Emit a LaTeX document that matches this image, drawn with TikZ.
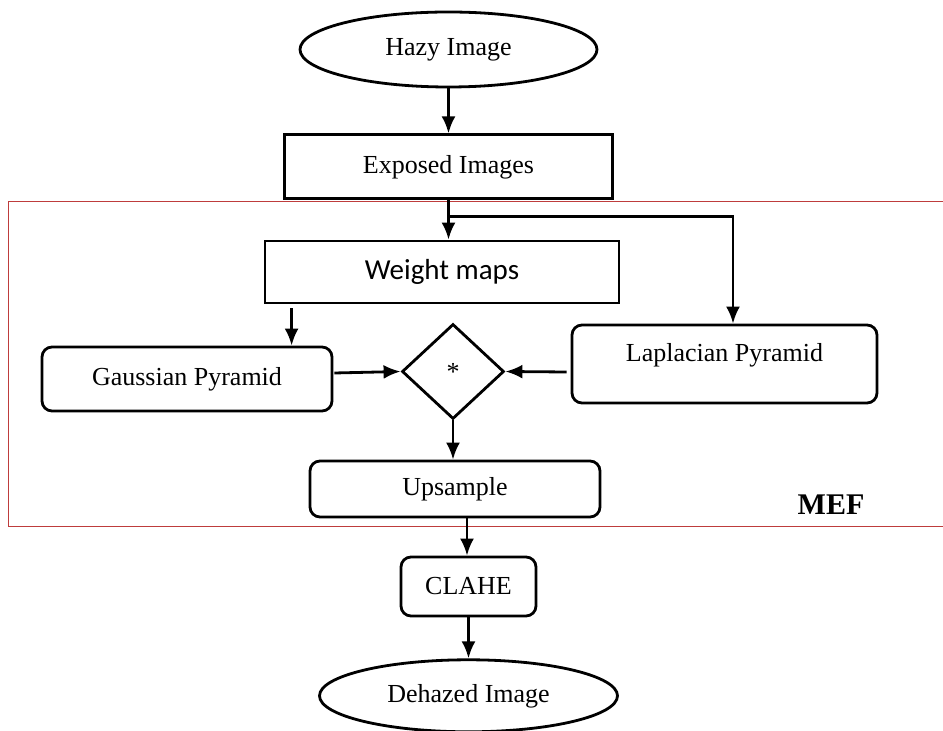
\documentclass[tikz,border=0pt]{standalone}
\usepackage{fontspec}
\setmainfont{Liberation Serif}
\newfontfamily\calibrif{Carlito}
\usepackage{tikz}
\usetikzlibrary{positioning}
\usetikzlibrary{calc}
\usetikzlibrary{shapes.geometric, arrows.meta}
\usepackage{xcolor}
\definecolor{mefred}{RGB}{190,60,60}
\tikzset{
	-{Latex[length=8.5pt,width=7pt]},
	every node/.style={align=center,font=\fontsize{13}{15}\selectfont},
	terminal/.style ={ellipse, draw, minimum width=148.5pt, minimum height=37.5pt},
	process/.style = {rectangle, draw, minimum height=32pt},
	stage/.style = {rectangle, draw, rounded corners=5pt},
	decision/.style = {diamond, draw, inner sep=0pt, minimum width=51pt, minimum height=47.5pt},
	mefframe/.style = {-, draw=mefred, line width=0.5pt}
}

\begin{document}
\begin{tikzpicture}[x=0.5pt, y=-0.5pt, line width=1.4pt]
	\useasboundingbox (0,0) rectangle (943,731);
	% MEF frame
	\draw[mefframe] (943,202) -- (8,202) -- (8,527) -- (943,527);
	\node (mef) at (831,505) {\fontsize{15}{17}\selectfont\bfseries MEF};
	
	\node (hazy) [terminal] at (448.5,49.5) {Hazy Image};
	\node (exposed) [process, minimum width=164pt, below = 22.5pt of hazy] {Exposed Images};
	\node (weight) [process, minimum width=177pt, minimum height=31pt] at (442,272) {\calibrif\fontsize{14.5}{17}\selectfont Weight maps};
	\node (gauss) [stage, minimum width=145pt, minimum height=32pt] at (187,379) {Gaussian Pyramid};
	\node (dia) [decision] at (453,371.5) {*};
	\node (lap) [stage, minimum width=152.5pt, minimum height=39pt, text height=9pt, text depth=11pt] at (724.5,364) {Laplacian Pyramid};
	\node (up) [stage, minimum width=145pt, minimum height=28pt] at (455,489) {Upsample};
	\node (clahe) [stage, minimum width=67.5pt, minimum height=29.5pt] at (468.5,586.5) {CLAHE};
	\node (dehazed) [terminal, minimum width=149pt, minimum height=36pt, below = 20.5pt of clahe] {Dehazed Image};
	
	\path (exposed.south) ++(0,16) coordinate (split);
	\path ([xshift=14pt,yshift=-2pt]weight.south west) coordinate (wm);
	
	\draw (hazy) -- (exposed);
	\draw (exposed.south) -- (exposed.south |- weight.north);
	\draw (split) -| ([xshift=4.25pt]lap.north);
	\draw (wm) -- (wm |- gauss.north);
	\draw ([shift={(1,-6)}]gauss.east) -- (dia.west);
	\draw ([shift={(-4,8)}]lap.west) -- (dia.east);
	\draw (dia.south) -- (dia.south |- up.north);
	\draw ([xshift=6pt]up.south) -- ([xshift=6pt]up.south |- clahe.north);
	\draw (clahe) -- (dehazed);
\end{tikzpicture}
\end{document}
